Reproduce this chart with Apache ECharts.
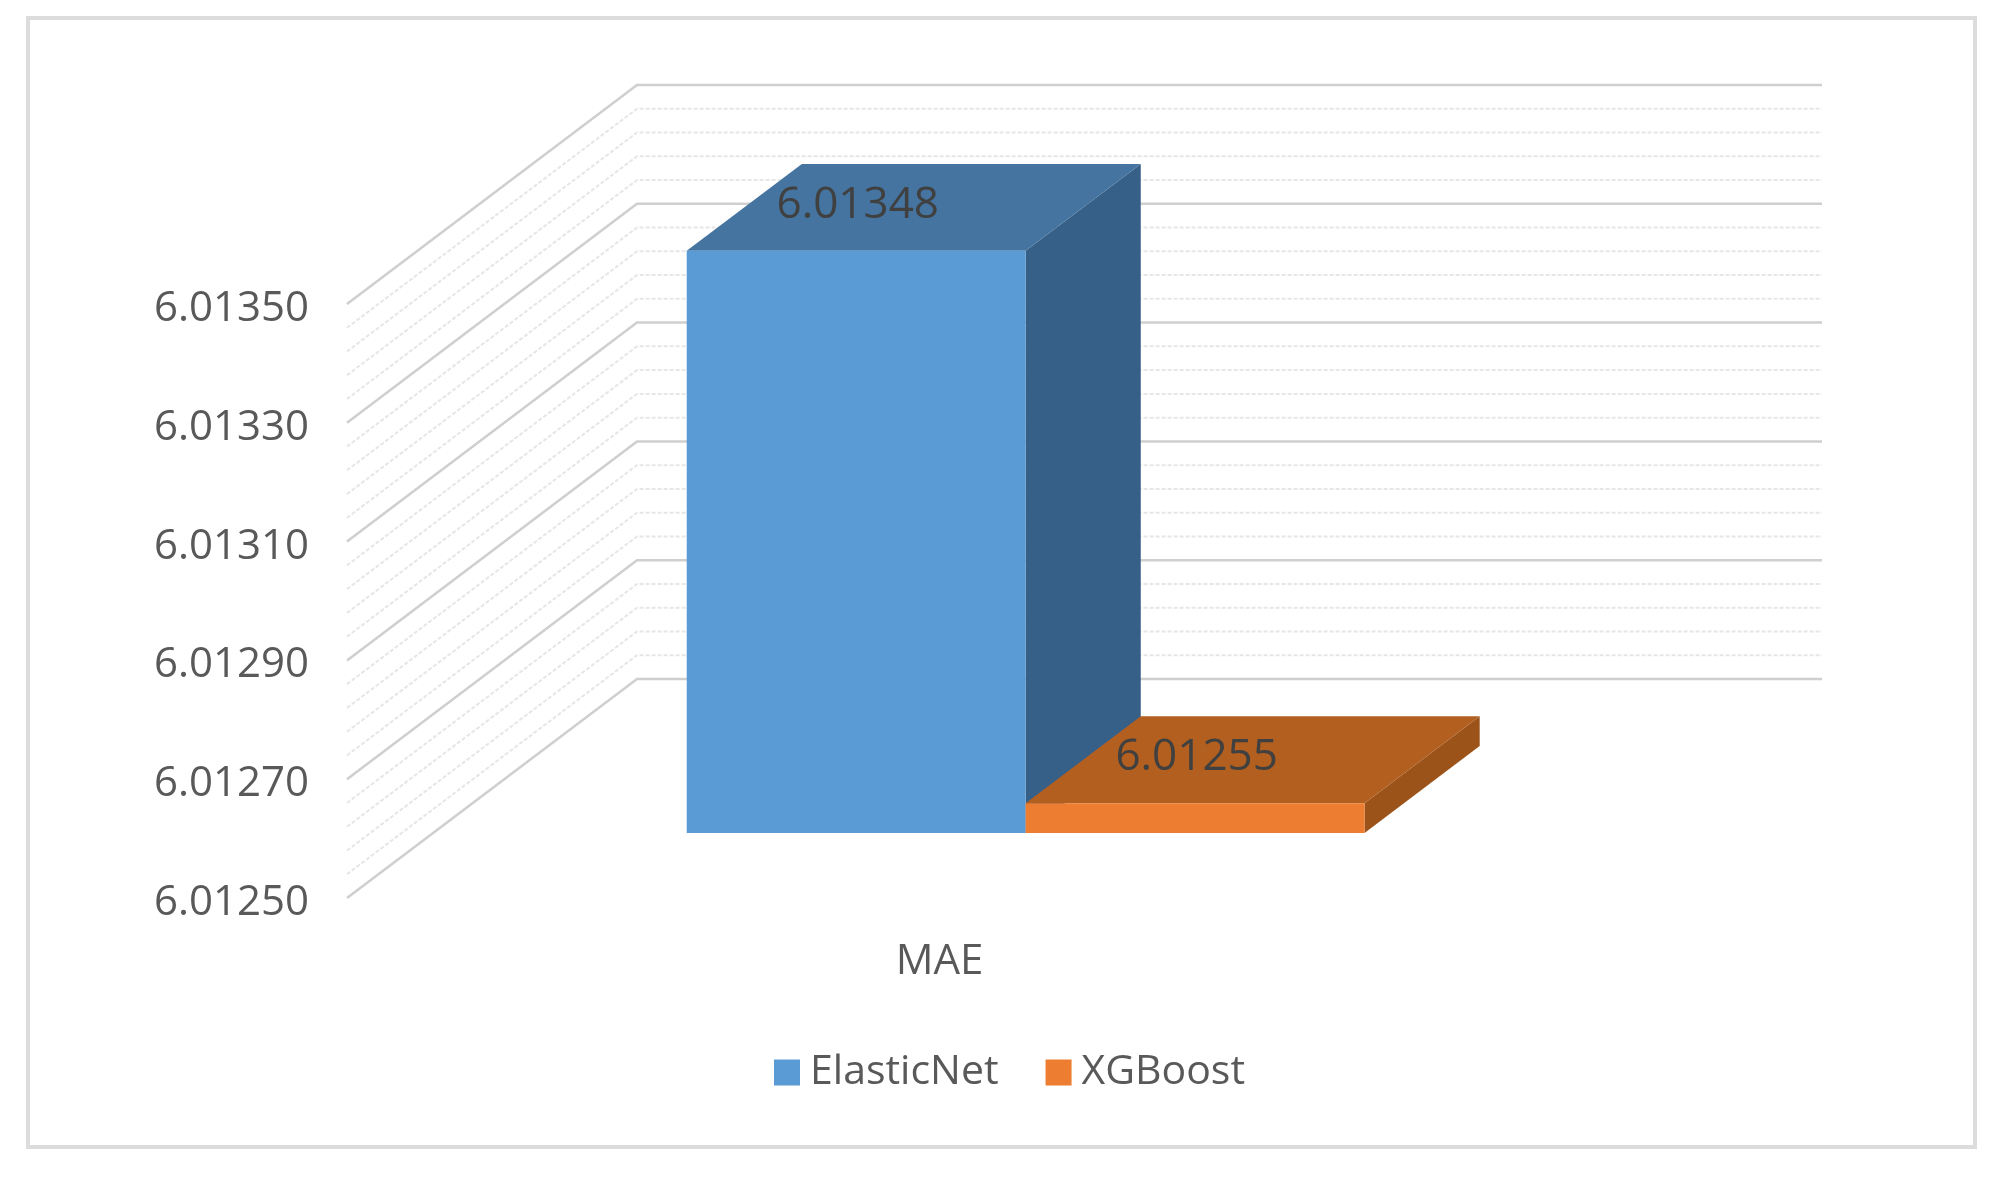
<!DOCTYPE html>
<html>
<head>
<meta charset="utf-8">
<style>
  html, body { margin: 0; padding: 0; background: #fff; }
  #main { width: 1999px; height: 1182px; }
</style>
<script src="https://cdn.jsdelivr.net/npm/echarts@6/dist/echarts.min.js"></script>
</head>
<body>
<div id="main"></div>
<script>
// data
const categories = ["MAE"];
const seriesNames = ["ElasticNet", "XGBoost"];
const elasticNet = [6.01348];
const xgBoost = [6.01255];
const axisMin = 6.0125;
const axisMax = 6.0135;
const majorTicks = [6.0125, 6.0127, 6.0129, 6.0131, 6.0133, 6.0135];
const minorTicks = [
  6.01254, 6.01258, 6.01262, 6.01266,
  6.01274, 6.01278, 6.01282, 6.01286,
  6.01294, 6.01298, 6.01302, 6.01306,
  6.01314, 6.01318, 6.01322, 6.01326,
  6.01334, 6.01338, 6.01342, 6.01346
];

// fake 3d: how far the back wall and the bars sit behind the axis plane
const wallDx = 290, wallDy = 219;
const barFrontT = 0.297, barBackT = 0.694;
const barShare = 0.286;
const fontName = "Open Sans";

const faces = {
  ElasticNet: { front: "#5b9bd5", top: "#44749f", side: "#376089" },
  XGBoost: { front: "#ed7d31", top: "#b25f20", side: "#9c5319" }
};

function renderWallLine(color, width, dash) {
  return function (params, api) {
    let p = api.coord([0, api.value(1)]);
    let rect = params.coordSys;
    return {
      type: "polyline",
      shape: {
        points: [
          [rect.x, p[1]],
          [rect.x + wallDx, p[1] - wallDy],
          [rect.x + rect.width + wallDx, p[1] - wallDy]
        ]
      },
      style: { stroke: color, lineWidth: width, lineDash: dash, fill: null }
    };
  };
}

function renderBar(name, index) {
  return function (params, api) {
    let top = api.coord([0, api.value(1)]);
    let base = api.coord([0, axisMin]);
    let w = api.size([1, 0])[0] * barShare;
    let x0 = top[0] + (index - 1) * w;
    let x1 = x0 + w;
    let fx = wallDx * barFrontT, fy = wallDy * barFrontT;
    let bx = wallDx * barBackT, by = wallDy * barBackT;
    let c = faces[name];
    let pt = (x, y, dx, dy) => [x + dx, y - dy];
    return {
      type: "group",
      children: [
        {
          type: "polygon",
          shape: { points: [pt(x1, top[1], fx, fy), pt(x1, top[1], bx, by), pt(x1, base[1], bx, by), pt(x1, base[1], fx, fy)] },
          style: { fill: c.side }
        },
        {
          type: "polygon",
          shape: { points: [pt(x0, top[1], fx, fy), pt(x0, top[1], bx, by), pt(x1, top[1], bx, by), pt(x1, top[1], fx, fy)] },
          style: { fill: c.top }
        },
        {
          type: "rect",
          shape: { x: x0 + fx, y: top[1] - fy, width: w, height: base[1] - top[1] },
          style: { fill: c.front }
        },
        {
          type: "text",
          x: x0 + w / 2 + (fx + bx) / 2 - 56,
          y: top[1] - (fy + by) / 2 - 2,
          style: {
            text: api.value(1).toFixed(5),
            fill: "#404040",
            font: "44px '" + fontName + "'",
            align: "center",
            verticalAlign: "middle"
          }
        }
      ]
    };
  };
}

let option = {
  animation: false,
  backgroundColor: "#fff",
  textStyle: { fontFamily: fontName },
  graphic: [
    {
      type: "rect",
      silent: true,
      z: -1,
      shape: { x: 28, y: 18, width: 1947, height: 1129 },
      style: { fill: "#fff", stroke: "#dcdcdc", lineWidth: 4 }
    }
  ],
  legend: {
    data: seriesNames,
    left: 769,
    top: 1047,
    icon: "rect",
    itemWidth: 26,
    itemHeight: 26,
    itemGap: 47,
    textStyle: { color: "#595959", fontSize: 41, fontFamily: fontName, padding: [0, 0, 0, 5] }
  },
  grid: { left: 347, right: 467, top: 304, bottom: 284 },
  xAxis: {
    type: "category",
    data: categories,
    axisLine: { show: false },
    axisTick: { show: false },
    axisLabel: { color: "#595959", fontSize: 42, fontFamily: fontName, margin: 43 }
  },
  yAxis: {
    type: "value",
    min: axisMin,
    max: axisMax,
    axisLine: { show: false },
    axisTick: { show: false },
    splitLine: { show: false },
    axisLabel: {
      customValues: majorTicks,
      margin: 38,
      formatter: (v) => "{t|" + v.toFixed(5) + "}",
      rich: {
        // labels sit a little below their gridline in the reference
        t: { color: "#595959", fontSize: 42, fontFamily: fontName, padding: [10, 0, 0, 0] }
      }
    }
  },
  series: [
    {
      name: "minor",
      type: "custom",
      silent: true,
      z: 1,
      renderItem: renderWallLine("#e6e6e6", 2, [4, 2]),
      data: minorTicks.map((v) => [0, v])
    },
    {
      name: "major",
      type: "custom",
      silent: true,
      z: 1,
      renderItem: renderWallLine("#cfcfcf", 2.5, null),
      data: majorTicks.map((v) => [0, v])
    },
    {
      name: "ElasticNet",
      type: "custom",
      z: 2,
      itemStyle: { color: faces.ElasticNet.front },
      renderItem: renderBar("ElasticNet", 0),
      data: elasticNet.map((v) => [0, v])
    },
    {
      name: "XGBoost",
      type: "custom",
      z: 3,
      itemStyle: { color: faces.XGBoost.front },
      renderItem: renderBar("XGBoost", 1),
      data: xgBoost.map((v) => [0, v])
    }
  ]
};

let chart = echarts.init(document.getElementById("main"));
chart.setOption(option);
</script>
</body>
</html>
